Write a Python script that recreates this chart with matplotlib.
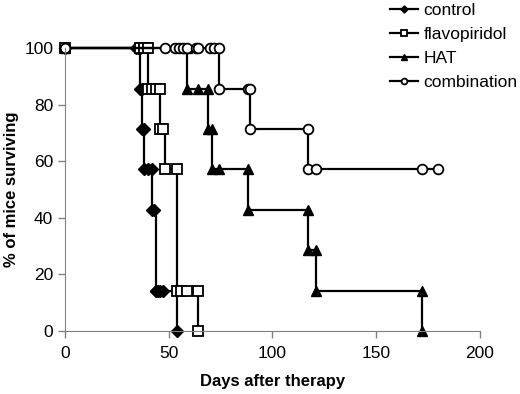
import matplotlib
matplotlib.use("Agg")
import matplotlib.pyplot as plt

plt.rcParams['font.family'] = ['Liberation Sans', 'DejaVu Sans']

# Kaplan-Meier points (day, % surviving), drawn as post-steps
ctrl_t = [0, 34, 35, 36, 36, 37, 37, 38, 38, 40, 42, 42, 43, 44, 44, 45, 46, 47, 54]
ctrl_s = [100, 100, 100, 100, 85.7, 85.7, 71.4, 71.4, 57.1, 57.1, 57.1, 42.9, 42.9,
          14.3, 14.3, 14.3, 14.3, 14.3, 0]

flav_t = [0, 36, 38, 40, 40, 42, 44, 46, 46, 47, 48, 54, 54, 56, 59, 64, 64]
flav_s = [100, 100, 100, 100, 85.7, 85.7, 85.7, 85.7, 71.4, 71.4, 57.1, 57.1,
          14.3, 14.3, 14.3, 14.3, 0]

hat_t = [0, 59, 59, 64, 69, 69, 71, 71, 74, 88, 88, 117, 117, 121, 121, 172, 172]
hat_s = [100, 100, 85.7, 85.7, 85.7, 71.4, 71.4, 57.1, 57.1, 57.1, 42.9, 42.9,
         28.6, 28.6, 14.3, 14.3, 0]

comb_t = [0, 48, 53, 55, 57, 59, 63, 64, 70, 72, 74, 74, 88, 89, 89, 117, 117, 121, 172, 180]
comb_s = [100, 100, 100, 100, 100, 100, 100, 100, 100, 100, 100, 85.7, 85.7, 85.7,
          71.4, 71.4, 57.1, 57.1, 57.1, 57.1]

fig = plt.figure(figsize=(5.2, 3.94), dpi=100)
ax = fig.add_axes([0.125, 0.16, 0.798, 0.718])

kw = dict(color="black", lw=1.6, drawstyle="steps-post", clip_on=False)
ax.plot(ctrl_t, ctrl_s, marker="D", mfc="black", mec="black", ms=6,
        label="control", **kw)
ax.plot(flav_t, flav_s, marker="s", mfc="white", mec="black", mew=1.3, ms=7,
        label="flavopiridol", **kw)
ax.plot(hat_t, hat_s, marker="^", mfc="black", mec="black", ms=7,
        label="HAT", **kw)
ax.plot(comb_t, comb_s, marker="o", mfc="white", mec="black", mew=1.3, ms=7,
        label="combination", **kw)

ax.set_xlim(0, 200)
ax.set_ylim(0, 100)
ax.set_xticks([0, 50, 100, 150, 200])
ax.set_yticks([0, 20, 40, 60, 80, 100])
for s in ["top", "right"]:
    ax.spines[s].set_visible(False)
for s in ["left", "bottom"]:
    ax.spines[s].set_color("#808080")
ax.tick_params(colors="#808080", labelcolor="black", labelsize=12.5, length=5, width=1)
ax.tick_params(axis="x", pad=6)
ax.set_xlabel("Days after therapy", fontsize=12, fontweight="bold", labelpad=9)
ax.set_ylabel("% of mice surviving", fontsize=12, fontweight="bold", labelpad=4)

fig.legend(loc="upper right", bbox_to_anchor=(1.0, 1.0), frameon=False,
           borderaxespad=0.05, borderpad=0.1,
           fontsize=12.5, handlelength=1.6, handletextpad=0.3, labelspacing=0.52,
           markerscale=0.6, numpoints=1)

fig.savefig("out.png", dpi=100)
